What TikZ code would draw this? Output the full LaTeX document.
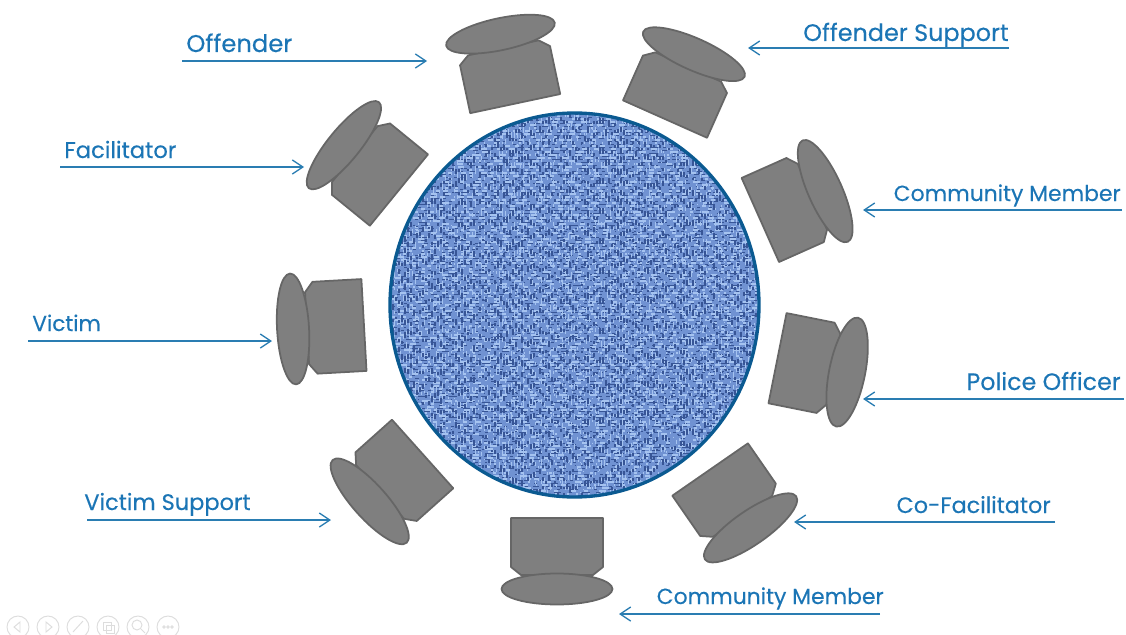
\documentclass[tikz,border=0pt]{standalone}
\usepackage{fontspec}
\setmainfont{Poppins}[FakeBold=0.3]
\usetikzlibrary{arrows.meta}
\definecolor{labelblue}{HTML}{1B75B5}
\definecolor{linkblue}{HTML}{2A7DB2}
\definecolor{chairgray}{HTML}{7F7F7F}
\definecolor{chairedge}{HTML}{666666}
\definecolor{tableedge}{HTML}{0B5A91}
\definecolor{navgray}{HTML}{DDDDDD}
\definecolor{clothbase}{RGB}{112,146,210}
\definecolor{clothlight}{RGB}{165,195,240}
\definecolor{clothdark}{RGB}{55,85,150}
\tikzset{
    chairpart/.style={fill=chairgray, draw=chairedge, line width=1pt, line join=round},
    rolelabel/.style={font=\fontsize{#1}{15}\selectfont, text=labelblue, inner sep=0pt},
    roleline/.style={draw=linkblue, line width=0.75pt, -{Straight Barb[length=6pt,width=8pt]}},
    navbutton/.style={draw=navgray, line width=0.55pt},
    pics/chair/.style={code={
        \draw[chairpart] (-46,-27) -- (46,-27) -- (46,22) -- (36,30) -- (-36,30) -- (-46,22) -- cycle;
        \draw[chairpart] (0,44) ellipse [x radius=55.5, y radius=#1];
    }}
}
\begin{document}
\begin{tikzpicture}[x=0.02cm, y=-0.02cm]
\useasboundingbox (0,0) rectangle (1126,635);
\clip (0,0) rectangle (1126,635);

% Mesa: hilos con trazos al azar, recortados por la elipse
\pgfmathsetseed{17}
\begin{scope}
    \clip (574.5,305) ellipse [x radius=184.5, y radius=192];
    \fill[clothbase] (388,111) rectangle (761,499);
    \foreach \ycell in {113,116,...,497}{
        \pgfmathsetmacro{\gapa}{0.85*random(1,4)}
        \pgfmathsetmacro{\gapb}{0.85*random(3,9)}
        \pgfmathsetmacro{\gapc}{0.85*random(1,5)}
        \pgfmathsetmacro{\gapd}{0.85*random(2,11)}
        \pgfmathsetmacro{\gape}{0.85*random(0,30)}
        \draw[clothlight, line width=1.7pt, dash pattern=on \gapa pt off \gapb pt on \gapc pt off \gapd pt, dash phase=\gape pt] (388,\ycell) -- (761,\ycell);
        \draw[clothdark, line width=0.9pt, dash pattern=on \gapc pt off \gapd pt on 1.7pt off \gapb pt, dash phase=\gapa pt] (388,\ycell+1.5) -- (761,\ycell+1.5);
    }
    \foreach \xcell in {390,393,...,758}{
        \pgfmathsetmacro{\gapa}{0.85*random(1,3)}
        \pgfmathsetmacro{\gapb}{0.85*random(3,10)}
        \pgfmathsetmacro{\gapc}{0.85*random(1,4)}
        \pgfmathsetmacro{\gapd}{0.85*random(4,13)}
        \pgfmathsetmacro{\gape}{0.85*random(0,30)}
        \draw[clothdark, line width=0.8pt, dash pattern=on \gapa pt off \gapb pt on \gapc pt off \gapd pt, dash phase=\gape pt] (\xcell,111) -- (\xcell,499);
        \draw[clothlight, line width=1pt, dash pattern=on \gapc pt off \gapd pt on \gapa pt off \gapb pt, dash phase=\gapb pt] (\xcell+1.5,111) -- (\xcell+1.5,499);
    }
\end{scope}
\draw[tableedge, line width=1.9pt] (574.5,305) ellipse [x radius=184.5, y radius=192];

% Sillas (centro del asiento, giro, grosor del respaldo)
\pic[rotate=192]   at (509.6,77.2)  {chair=16};
\pic[rotate=156]   at (676,94.4)    {chair=16};
\pic[rotate=114]   at (785,209)     {chair=17};
\pic[rotate=78.7]  at (804,363.5)   {chair=18};
\pic[rotate=34.7]  at (725.5,491.7) {chair=17};
\pic[rotate=0]     at (557,545)     {chair=15.5};
\pic[rotate=-48.2] at (402.5,472)   {chair=17};
\pic[rotate=-86.8] at (337,326.5)   {chair=16};
\pic[rotate=230.8] at (378,173)     {chair=16};

% Etiquetas
\node[rolelabel=13.8,  anchor=base west] (offender)    at (186,52)   {Offender};
\node[rolelabel=13.6,  anchor=base east] (offsupport)  at (1009,41)  {Offender Support};
\node[rolelabel=12.45, anchor=base east] (member-a)    at (1121,201) {Community Member};
\node[rolelabel=13.5,  anchor=base east] (police)      at (1121,390) {Police Officer};
\node[rolelabel=12.7,  anchor=base east] (cofacil)     at (1051,513) {Co-Facilitator};
\node[rolelabel=12.45, anchor=base east] (member-b)    at (884,604)  {Community Member};
\node[rolelabel=12.8,  anchor=base west] (vicsupport)  at (84,510)   {Victim Support};
\node[rolelabel=12.3,  anchor=base west] (victim)      at (32,331)   {Victim};
\node[rolelabel=12.9,  anchor=base west] (facilitator) at (64,158)   {Facilitator};

% Extremos de las flechas
\coordinate (offender-s)    at (182,61);    \coordinate (offender-t)    at (427,61);
\coordinate (offsupport-s)  at (1009,48);   \coordinate (offsupport-t)  at (748,48);
\coordinate (member-a-s)    at (1122,210);  \coordinate (member-a-t)    at (863,210);
\coordinate (police-s)      at (1124,399);  \coordinate (police-t)      at (863,399);
\coordinate (cofacil-s)     at (1055,522);  \coordinate (cofacil-t)     at (794,522);
\coordinate (member-b-s)    at (880,614);   \coordinate (member-b-t)    at (619,614);
\coordinate (vicsupport-s)  at (87,520);    \coordinate (vicsupport-t)  at (331,520);
\coordinate (victim-s)      at (28,341);    \coordinate (victim-t)      at (272,341);
\coordinate (facilitator-s) at (60,167);    \coordinate (facilitator-t) at (304,167);
\foreach \role in {offender, offsupport, member-a, police, cofacil, member-b, vicsupport, victim, facilitator}{
    \draw[roleline] (\role-s) -- (\role-t);
}

% Botones de presentacion
\foreach \xval in {18,48,78,108,138,168}{
    \draw[navbutton] (\xval,627) circle [radius=11];
}
\draw[navbutton] (20,622) -- (14,627) -- (20,632) -- cycle;
\draw[navbutton] (46,622) -- (52,627) -- (46,632) -- cycle;
\draw[navbutton] (73,632) -- (83,621);
\draw[navbutton] (103,622) rectangle (111,630);
\draw[navbutton] (106,625) rectangle (114,633);
\draw[navbutton] (137,625) circle [radius=5];
\draw[navbutton] (141,629) -- (145,633);
\foreach \xval in {164,168,172}{
    \draw[navbutton] (\xval,627) circle [radius=1.2];
}
\end{tikzpicture}
\end{document}
